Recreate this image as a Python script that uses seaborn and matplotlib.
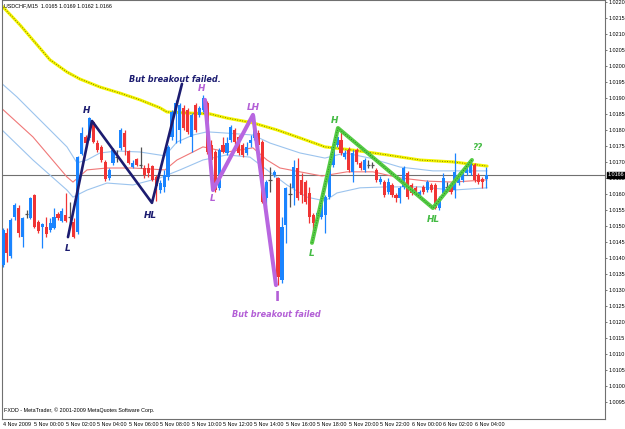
import matplotlib
matplotlib.use("Agg")
import matplotlib.pyplot as plt
import matplotlib.transforms as mtransforms
import numpy as np
import pandas as pd
import seaborn as sns

# ---------------- data (USDCHF M15 candles) ----------------
opens = [1.01378, 1.01478, 1.01406, 1.01528, 1.01556, 1.01465, 1.01537, 1.01525, 1.01597, 1.01512,
         1.01497, 1.01497, 1.01487, 1.01494, 1.01537, 1.01515, 1.01534, 1.01528, 1.01512, 1.01481,
         1.01725, 1.01778, 1.01775, 1.01825, 1.01759, 1.01747, 1.01700, 1.01650, 1.01697, 1.01715,
         1.01744, 1.01790, 1.01734, 1.01684, 1.01709, 1.01690, 1.01681, 1.01681, 1.01687, 1.01653,
         1.01612, 1.01622, 1.01653, 1.01778, 1.01853, 1.01800, 1.01869, 1.01862, 1.01778, 1.01878,
         1.01847, 1.01862, 1.01884, 1.01753, 1.01731, 1.01619, 1.01753, 1.01728, 1.01769, 1.01800,
         1.01778, 1.01753, 1.01728, 1.01759, 1.01775, 1.01790, 1.01762, 1.01587, 1.01644, 1.01659,
         1.01650, 1.01331, 1.01503, 1.01600, 1.01619, 1.01681, 1.01644, 1.01637, 1.01603, 1.01534,
         1.01519, 1.01528, 1.01534, 1.01590, 1.01690, 1.01753, 1.01769, 1.01715, 1.01737, 1.01669,
         1.01737, 1.01697, 1.01675, 1.01690, 1.01690, 1.01675, 1.01637, 1.01637, 1.01606, 1.01628,
         1.01597, 1.01587, 1.01622, 1.01665, 1.01628, 1.01619, 1.01597, 1.01622, 1.01612, 1.01628,
         1.01628, 1.01556, 1.01603, 1.01622, 1.01628, 1.01612, 1.01634, 1.01644, 1.01665, 1.01665,
         1.01690, 1.01659, 1.01647, 1.01647]
highs = [1.01494, 1.01494, 1.01525, 1.01572, 1.01565, 1.01528, 1.01550, 1.01590, 1.01600, 1.01519,
         1.01509, 1.01528, 1.01525, 1.01556, 1.01544, 1.01556, 1.01603, 1.01575, 1.01525, 1.01719,
         1.01809, 1.01784, 1.01840, 1.01828, 1.01769, 1.01753, 1.01706, 1.01681, 1.01744, 1.01737,
         1.01806, 1.01800, 1.01737, 1.01706, 1.01712, 1.01747, 1.01690, 1.01697, 1.01690, 1.01659,
         1.01644, 1.01675, 1.01753, 1.01862, 1.01894, 1.01884, 1.01878, 1.01869, 1.01853, 1.01884,
         1.01875, 1.01909, 1.01890, 1.01769, 1.01737, 1.01744, 1.01778, 1.01778, 1.01815, 1.01806,
         1.01784, 1.01759, 1.01762, 1.01784, 1.01847, 1.01800, 1.01769, 1.01644, 1.01684, 1.01675,
         1.01653, 1.01528, 1.01622, 1.01634, 1.01706, 1.01712, 1.01665, 1.01644, 1.01622, 1.01540,
         1.01547, 1.01587, 1.01597, 1.01703, 1.01759, 1.01806, 1.01800, 1.01737, 1.01747, 1.01737,
         1.01744, 1.01703, 1.01712, 1.01706, 1.01700, 1.01681, 1.01656, 1.01644, 1.01650, 1.01634,
         1.01603, 1.01625, 1.01687, 1.01672, 1.01634, 1.01625, 1.01612, 1.01628, 1.01644, 1.01634,
         1.01634, 1.01594, 1.01665, 1.01637, 1.01634, 1.01728, 1.01669, 1.01675, 1.01690, 1.01706,
         1.01697, 1.01665, 1.01653, 1.01684]
lows = [1.01372, 1.01387, 1.01400, 1.01519, 1.01465, 1.01434, 1.01525, 1.01522, 1.01494, 1.01478,
        1.01431, 1.01465, 1.01481, 1.01490, 1.01519, 1.01512, 1.01512, 1.01509, 1.01462, 1.01475,
        1.01722, 1.01753, 1.01769, 1.01759, 1.01731, 1.01700, 1.01640, 1.01644, 1.01690, 1.01700,
        1.01737, 1.01722, 1.01694, 1.01681, 1.01687, 1.01681, 1.01650, 1.01653, 1.01640, 1.01578,
        1.01603, 1.01606, 1.01644, 1.01769, 1.01759, 1.01759, 1.01800, 1.01787, 1.01731, 1.01794,
        1.01840, 1.01856, 1.01725, 1.01700, 1.01606, 1.01612, 1.01728, 1.01722, 1.01762, 1.01756,
        1.01722, 1.01715, 1.01722, 1.01747, 1.01769, 1.01747, 1.01572, 1.01559, 1.01606, 1.01653,
        1.01315, 1.01322, 1.01447, 1.01559, 1.01565, 1.01581, 1.01572, 1.01569, 1.01509, 1.01478,
        1.01512, 1.01522, 1.01478, 1.01584, 1.01684, 1.01747, 1.01722, 1.01709, 1.01669, 1.01637,
        1.01694, 1.01675, 1.01669, 1.01681, 1.01681, 1.01637, 1.01631, 1.01590, 1.01600, 1.01590,
        1.01575, 1.01572, 1.01615, 1.01584, 1.01597, 1.01600, 1.01590, 1.01600, 1.01606, 1.01606,
        1.01553, 1.01550, 1.01597, 1.01606, 1.01600, 1.01587, 1.01628, 1.01637, 1.01659, 1.01659,
        1.01637, 1.01631, 1.01619, 1.01619]
closes = [1.01487, 1.01415, 1.01519, 1.01565, 1.01478, 1.01525, 1.01537, 1.01587, 1.01497, 1.01484,
          1.01506, 1.01475, 1.01509, 1.01528, 1.01525, 1.01547, 1.01515, 1.01528, 1.01465, 1.01715,
          1.01790, 1.01759, 1.01837, 1.01762, 1.01737, 1.01706, 1.01647, 1.01675, 1.01737, 1.01715,
          1.01800, 1.01747, 1.01697, 1.01697, 1.01690, 1.01690, 1.01659, 1.01665, 1.01644, 1.01625,
          1.01634, 1.01659, 1.01747, 1.01856, 1.01884, 1.01878, 1.01806, 1.01794, 1.01847, 1.01800,
          1.01869, 1.01900, 1.01731, 1.01706, 1.01612, 1.01737, 1.01731, 1.01759, 1.01809, 1.01762,
          1.01728, 1.01722, 1.01747, 1.01769, 1.01822, 1.01753, 1.01575, 1.01637, 1.01644, 1.01669,
          1.01340, 1.01497, 1.01619, 1.01600, 1.01684, 1.01587, 1.01597, 1.01575, 1.01528, 1.01509,
          1.01540, 1.01581, 1.01590, 1.01697, 1.01747, 1.01778, 1.01728, 1.01728, 1.01675, 1.01728,
          1.01700, 1.01681, 1.01706, 1.01690, 1.01690, 1.01644, 1.01647, 1.01597, 1.01637, 1.01597,
          1.01587, 1.01619, 1.01681, 1.01590, 1.01603, 1.01606, 1.01606, 1.01606, 1.01637, 1.01612,
          1.01556, 1.01587, 1.01650, 1.01622, 1.01606, 1.01669, 1.01659, 1.01669, 1.01684, 1.01700,
          1.01644, 1.01637, 1.01637, 1.01659]

time_labels = ["4 Nov 2009", "5 Nov 00:00", "5 Nov 02:00", "5 Nov 04:00", "5 Nov 06:00",
               "5 Nov 08:00", "5 Nov 10:00", "5 Nov 12:00", "5 Nov 14:00", "5 Nov 16:00",
               "5 Nov 18:00", "5 Nov 20:00", "5 Nov 22:00", "6 Nov 00:00", "6 Nov 02:00",
               "6 Nov 04:00"]
time_label_bars = [0, 8, 16, 24, 32, 40, 48, 56, 64, 72, 80, 88, 96, 104, 112, 120]

price_ticks = [1.0220, 1.0215, 1.0210, 1.0205, 1.0200, 1.0195, 1.0190, 1.0185, 1.0180,
               1.0175, 1.0170, 1.0165, 1.0160, 1.0155, 1.0150, 1.0145, 1.0140, 1.0135,
               1.0130, 1.0125, 1.0120, 1.0115, 1.0110, 1.0105, 1.0100, 1.0095]
last_price = 1.0166

# slow moving average (yellow) vertices
slow_x = [-0.76, 4.33, 11.96, 16.28, 19.59, 24.68, 29.77, 34.86, 39.95, 41.73, 46.82, 52.67,
          57.0, 63.61, 69.72, 75.57, 81.93, 89.06, 97.71, 106.1, 114.5, 123.2]
slow_y = [1.02194, 1.02128, 1.02019, 1.01981, 1.01959, 1.01934, 1.01915, 1.01894, 1.01869,
          1.01856, 1.01853, 1.01850, 1.01837, 1.01822, 1.01800, 1.01775, 1.01747, 1.01737,
          1.01722, 1.01706, 1.01700, 1.01687]
# band upper / middle / lower vertices
upper_x = [-0.76, 3.56, 7.63, 11.96, 16.28, 18.83, 21.37, 24.68, 29.0, 34.86, 41.22, 44.27,
           48.35, 51.91, 57.0, 63.61, 67.94, 75.57, 81.93, 87.02, 93.38, 101.02, 109.4, 123.2]
upper_y = [1.01950, 1.01903, 1.01853, 1.01800, 1.01747, 1.01697, 1.01706, 1.01728, 1.01734,
           1.01731, 1.01719, 1.01762, 1.01784, 1.01794, 1.01790, 1.01784, 1.01759, 1.01728,
           1.01712, 1.01728, 1.01712, 1.01684, 1.01672, 1.01672]
mid_x = [-0.76, 7.63, 16.28, 17.81, 21.37, 26.46, 33.08, 41.22, 44.27, 48.35, 50.89, 57.0,
         63.61, 67.18, 70.48, 75.57, 81.17, 87.53, 94.15, 101.02, 107.89, 114.5, 123.2]
mid_y = [1.01872, 1.01778, 1.01653, 1.01637, 1.01675, 1.01681, 1.01681, 1.01675, 1.01706,
         1.01731, 1.01747, 1.01731, 1.01744, 1.01706, 1.01681, 1.01669, 1.01656, 1.01669,
         1.01669, 1.01650, 1.01640, 1.01637, 1.01644]
lower_x = [-0.76, 7.63, 16.28, 17.81, 21.37, 26.46, 33.08, 39.95, 45.04, 50.89, 57.0, 62.85,
           67.18, 72.26, 77.35, 81.93, 84.99, 90.84, 97.71, 106.1, 114.5, 123.2]
lower_y = [1.01806, 1.01706, 1.01612, 1.01590, 1.01612, 1.01634, 1.01628, 1.01650, 1.01675,
           1.01706, 1.01722, 1.01715, 1.01675, 1.01628, 1.01590, 1.01578, 1.01603, 1.01619,
           1.01622, 1.01622, 1.01612, 1.01619]

# hand-drawn pattern lines (bar index, price)
navy_x = [16.54, 22.65, 37.91, 45.55]
navy_y = [1.01465, 1.01828, 1.01572, 1.01944]
purple_x = [51.4, 53.44, 63.61, 69.47]
purple_y = [1.01894, 1.01612, 1.01847, 1.01315]
green_x = [78.63, 85.24, 109.4, 119.34]
green_y = [1.01447, 1.01806, 1.01556, 1.01706]

# ---------------- styling ----------------
sns.set_style("white")
plt.rcParams["font.family"] = ["Liberation Sans", "DejaVu Sans"]

W, H = 625, 429
fig = plt.figure(figsize=(W / 100, H / 100), dpi=100)
ax = fig.add_axes([2 / W, 10 / H, 603 / W, 419 / H])

BLUE = "#1a84ff"
RED = "#f03434"
DOJI = "#505050"
SMALL = 3.9

n = len(opens)
df = pd.DataFrame({"bar": np.arange(n), "open": opens, "high": highs,
                   "low": lows, "close": closes})
df["dir"] = np.where(df["close"] > df["open"], "up",
                     np.where(df["close"] < df["open"], "down", "flat"))
cmap = {"up": BLUE, "down": RED, "flat": DOJI}
colors = df["dir"].map(cmap).tolist()

# wicks
ax.vlines(df["bar"], df["low"], df["high"], colors=colors, linewidth=0.9, zorder=3)
# bodies
body_bottom = np.minimum(df["open"], df["close"])
body_h = np.abs(df["close"] - df["open"])
ax.bar(df["bar"], body_h, bottom=body_bottom, width=0.8, color=colors,
       linewidth=0, zorder=4)
# doji horizontal marks
flat = df[df["dir"] == "flat"]
ax.hlines(flat["open"], flat["bar"] - 0.45, flat["bar"] + 0.45, colors=DOJI,
          linewidth=0.9, zorder=4)

# moving averages / bands
def line(xs, ys, **kw):
    sns.lineplot(x=xs, y=ys, ax=ax, sort=False, estimator=None, legend=False, **kw)

line(upper_x, upper_y, color="#9cc4ee", linewidth=0.8, zorder=2)
line(lower_x, lower_y, color="#9cc4ee", linewidth=0.8, zorder=2)
line(mid_x, mid_y, color="#f07878", linewidth=0.8, zorder=2)
line(slow_x, slow_y, color="#f4f400", linewidth=2.2, zorder=2)
line(slow_x, slow_y, color="#5a5a00", linewidth=0.6, linestyle=(0, (1, 2)), zorder=2)

# current price line
ax.axhline(last_price, color="#707070", linewidth=0.8, zorder=1)

# pattern lines
line(navy_x, navy_y, color="#1c1c70", linewidth=1.9, zorder=6)
line(purple_x, purple_y, color="#b866e0", linewidth=2.9, zorder=6)
line(green_x, green_y, color="#55cc44", linewidth=2.9, zorder=6)
line(green_x, green_y, color="#1f7a1f", linewidth=0.6, linestyle=(0, (1, 2)), zorder=6)

lab = dict(fontweight="bold", fontstyle="italic", ha="center", va="center", zorder=8,
           family=["DejaVu Sans"])
NAVY, PURP, GRN = "#1c1c70", "#b35fd6", "#44bb44"
FS = 5.9
ax.text(21.37, 1.01862, "H", color=NAVY, fontsize=6.4, **lab)
ax.text(37.4, 1.01531, "HL", color=NAVY, fontsize=6.4, **lab)
ax.text(16.54, 1.01428, "L", color=NAVY, fontsize=6.4, **lab)
ax.text(43.77, 1.01959, "But breakout failed.", color=NAVY, fontsize=FS, **lab)
ax.text(50.64, 1.01928, "H", color=PURP, fontsize=6.4, **lab)
ax.text(53.44, 1.01587, "L", color=PURP, fontsize=6.4, **lab)
ax.text(63.61, 1.01869, "LH", color=PURP, fontsize=6.4, **lab)
ax.text(69.72, 1.01278, "I", color=PURP, fontsize=10, fontweight="bold",
        ha="center", va="center", zorder=8, family=["DejaVu Sans"])
ax.text(69.47, 1.01222, "But breakout failed", color=PURP, fontsize=FS, **lab)
ax.text(84.48, 1.01828, "H", color=GRN, fontsize=6.4, **lab)
ax.text(78.63, 1.01415, "L", color=GRN, fontsize=6.4, **lab)
ax.text(109.4, 1.01519, "HL", color=GRN, fontsize=6.4, **lab)
ax.text(120.6, 1.01744, "??", color=GRN, fontsize=6.4, **lab)

# axes limits / ticks
ax.set_xlim(-0.25, 153.2)
ax.set_ylim(1.008966, 1.02206)
ax.yaxis.tick_right()
ax.set_yticks(price_ticks)
ax.set_yticklabels([f"{p:.4f}" for p in price_ticks])
ax.set_xticks(time_label_bars)
ax.set_xticklabels(time_labels, ha="left")
ax.tick_params(axis="both", direction="out", length=1.6, width=0.6, colors="#606060",
               labelcolor="black", labelsize=SMALL, pad=0.8)
ax.set_xlabel("")
ax.set_ylabel("")
for s in ax.spines.values():
    s.set_color("#707070")
    s.set_linewidth(0.8)
    s.set_visible(True)

# current price box
trans = mtransforms.blended_transform_factory(ax.transAxes, ax.transData)
ax.text(1.0045, last_price, "1.0166", transform=trans, color="white", fontsize=SMALL,
        va="center", ha="left", clip_on=False, zorder=10,
        bbox=dict(boxstyle="square,pad=0.12", facecolor="black", edgecolor="black"))

fig.text(4 / W, 1 - 6 / H, "USDCHF,M15  1.0165 1.0169 1.0162 1.0166", fontsize=SMALL,
         ha="left", va="center", color="black")
ax.text(0.004, 0.014, "FXDD - MetaTrader, \u00a9 2001-2009 MetaQuotes Software Corp.",
        transform=ax.transAxes, fontsize=SMALL, ha="left", va="bottom", color="black")

fig.savefig("out.png", dpi=100, facecolor="white")
